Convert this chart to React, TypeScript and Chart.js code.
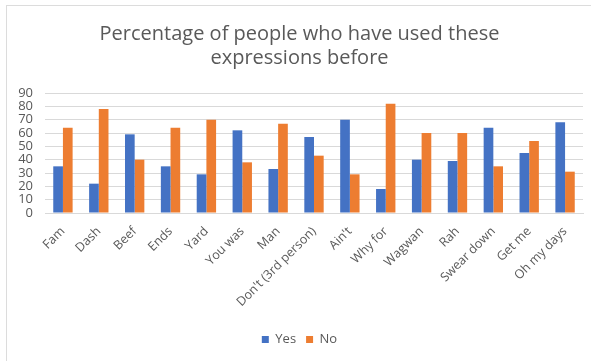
import React, { useEffect, useRef } from "react";
import { Chart, registerables } from "chart.js";

Chart.register(...registerables);

const expressions = [
  "Fam", "Dash", "Beef", "Ends", "Yard", "You was", "Man", "Don't (3rd person)",
  "Ain't", "Why for", "Wagwan", "Rah", "Swear down", "Get me", "Oh my days",
];
const yesValues = [35, 22, 59, 35, 29, 62, 33, 57, 70, 18, 40, 39, 64, 45, 68];
const noValues = [64, 78, 40, 64, 70, 38, 67, 43, 29, 82, 60, 60, 35, 54, 31];
const titleLines = ["Percentage of people who have used these", "expressions before"];

const TEXT = "#595959";
const GRID = "#d9d9d9";
const FONT = "Open Sans, Liberation Sans, sans-serif";

export default function App() {
  const ref = useRef<HTMLCanvasElement | null>(null);

  useEffect(() => {
    if (!ref.current) return;
    const chart = new Chart(ref.current, {
      type: "bar",
      data: {
        labels: expressions,
        datasets: [
          { label: "Yes", data: yesValues, backgroundColor: "#4472C4", categoryPercentage: 0.54, barPercentage: 1 },
          { label: "No", data: noValues, backgroundColor: "#ED7D31", categoryPercentage: 0.54, barPercentage: 1 },
        ],
      },
      options: {
        responsive: false,
        animation: false,
        layout: { padding: { left: 16, right: 8, top: 22, bottom: 5 } },
        plugins: {
          title: {
            display: true,
            text: titleLines,
            color: TEXT,
            font: { family: FONT, size: 20, weight: "normal" },
            lineHeight: 1.6,
            padding: { top: 0, bottom: 23 },
          },
          legend: {
            position: "bottom",
            labels: {
              color: TEXT,
              font: { family: FONT, size: 13 },
              boxWidth: 7,
              boxHeight: 7,
              padding: 10,
            },
          },
          tooltip: { enabled: false },
        },
        scales: {
          x: {
            grid: { display: false },
            border: { display: true, color: GRID },
            ticks: {
              color: TEXT,
              font: { family: FONT, size: 12.5 },
              maxRotation: 45,
              minRotation: 45,
              autoSkip: false,
              padding: 3,
            },
            afterFit: (axis: any) => {
              axis.height = 110;
            },
          },
          y: {
            min: 0,
            max: 90,
            border: { display: false },
            grid: { color: GRID, drawTicks: false },
            ticks: {
              stepSize: 10,
              autoSkip: false,
              color: TEXT,
              font: { family: FONT, size: 13 },
              padding: 12,
            },
            afterFit: (axis: any) => {
              axis.width = 29;
            },
          },
        },
      },
    });
    return () => chart.destroy();
  }, []);

  return (
    <div style={{ position: "fixed", left: 0, top: 0, width: 591, height: 361, background: "#fff", overflow: "hidden" }}>
      <div style={{ position: "absolute", left: 6, top: 5, width: 600, height: 400, border: "1.5px solid #dcdcdc", boxSizing: "border-box" }} />
      <canvas ref={ref} width={591} height={361} style={{ position: "absolute", left: 0, top: 0 }} />
    </div>
  );
}
